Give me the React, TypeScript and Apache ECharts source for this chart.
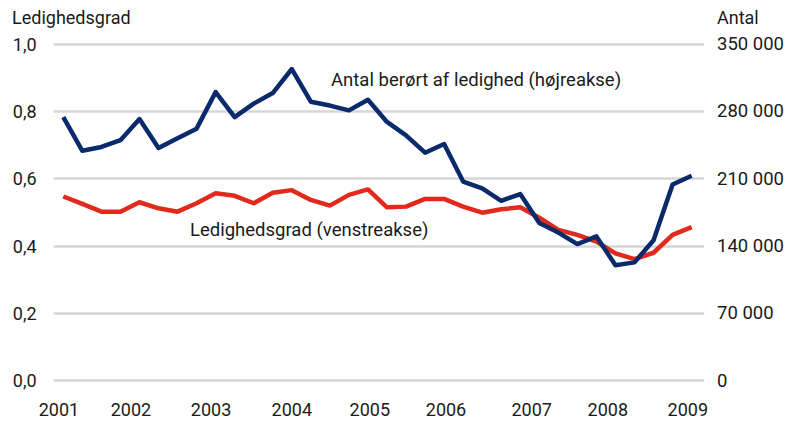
import React, { useEffect, useRef } from "react";
import * as echarts from "echarts";

// Quarterly data, 2001 K1 – 2009 K2
const quarters: string[] = [];
for (let y = 2001; y <= 2009; y++) {
  for (let q = 1; q <= 4; q++) {
    if (y === 2009 && q > 2) break;
    quarters.push(`${y}K${q}`);
  }
}

// Ledighedsgrad (left axis)
const ledighedsgrad = [
  0.547, 0.525, 0.502, 0.502, 0.530, 0.512, 0.502, 0.527,
  0.557, 0.549, 0.527, 0.558, 0.566, 0.537, 0.520, 0.552,
  0.568, 0.515, 0.517, 0.540, 0.540, 0.517, 0.499, 0.509,
  0.515, 0.484, 0.448, 0.433, 0.413, 0.378, 0.361, 0.380,
  0.433, 0.456,
];

// Antal berørt af ledighed (right axis)
const antalBeroert = [
  274000, 239000, 243000, 250000, 272000, 242000, 252000, 262000,
  300000, 274000, 288000, 299000, 324000, 290000, 286000, 281000,
  292000, 269000, 255000, 237000, 246000, 207000, 200000, 187000,
  194000, 164000, 154000, 142000, 150000, 120000, 123000, 146000,
  204000, 213000,
];

// Year tick labels and where they sit on the quarter index scale
const yearLabels = ["2001", "2002", "2003", "2004", "2005", "2006", "2007", "2008", "2009"];
const yearLabelPos = [-0.23, 3.55, 7.76, 12.0, 16.1, 20.1, 24.6, 28.6, 32.8];

const FONT = "Roboto, 'Liberation Sans', sans-serif";
const FS = 18;
const FS_NOTE = 18.5;
const TXT = "#1a1a1a";

export default function App() {
  const ref = useRef<HTMLDivElement>(null);

  useEffect(() => {
    if (!ref.current) return;
    const chart = echarts.init(ref.current, undefined, { renderer: "svg" });
    chart.setOption({
      animation: false,
      backgroundColor: "#ffffff",
      textStyle: { fontFamily: FONT },
      grid: {
        left: 53.6,
        right: 93,
        top: 44,
        bottom: 40.3,
        containLabel: false,
        outerBoundsMode: "none",
      },
      xAxis: {
        type: "value",
        min: -0.51,
        max: 33.65,
        axisLine: { show: false },
        axisTick: { show: false },
        splitLine: { show: false },
        axisLabel: {
          customValues: yearLabelPos,
          margin: 20,
          fontSize: FS,
          color: TXT,
          fontFamily: FONT,
          formatter: (v: number) => {
            const i = yearLabelPos.findIndex((p) => Math.abs(p - v) < 1e-6);
            return i >= 0 ? yearLabels[i] : "";
          },
        },
      },
      yAxis: [
        {
          type: "value",
          min: 0,
          max: 1,
          interval: 0.2,
          position: "left",
          axisLine: { show: false },
          axisTick: { show: false },
          splitLine: { show: true, lineStyle: { color: "#d6d6d6", width: 2.5 } },
          axisLabel: {
            margin: 17,
            fontSize: FS,
            color: TXT,
            fontFamily: FONT,
            formatter: (v: number) => v.toFixed(1).replace(".", ","),
          },
        },
        {
          type: "value",
          min: 0,
          max: 350000,
          interval: 70000,
          position: "right",
          axisLine: { show: false },
          axisTick: { show: false },
          splitLine: { show: false },
          axisLabel: {
            margin: 13,
            fontSize: 18.5,
            color: TXT,
            fontFamily: FONT,
            formatter: (v: number) => (v === 0 ? "0" : `${Math.round(v / 1000)} 000`),
          },
        },
      ],
      series: [
        {
          name: "Ledighedsgrad (venstreakse)",
          type: "line",
          yAxisIndex: 0,
          data: ledighedsgrad.map((v, i) => [i, v]),
          symbol: "none",
          lineStyle: { color: "#e12a1c", width: 4.5, join: "round" },
          z: 2,
        },
        {
          name: "Antal berørt af ledighed (højreakse)",
          type: "line",
          yAxisIndex: 1,
          data: antalBeroert.map((v, i) => [i, v]),
          symbol: "none",
          lineStyle: { color: "#0b2a6b", width: 4.5, join: "round" },
          z: 3,
        },
      ],
      graphic: [
        {
          type: "text",
          left: 12,
          top: 8,
          style: { text: "Ledighedsgrad", fontSize: FS, fontFamily: FONT, fill: TXT },
        },
        {
          type: "text",
          left: 717,
          top: 8,
          style: { text: "Antal", fontSize: FS, fontFamily: FONT, fill: TXT },
        },
        {
          type: "text",
          left: 331,
          top: 70,
          style: { text: "Antal berørt af ledighed (højreakse)", fontSize: FS_NOTE, fontFamily: FONT, fill: TXT },
        },
        {
          type: "text",
          left: 190,
          top: 220,
          style: { text: "Ledighedsgrad (venstreakse)", fontSize: FS_NOTE, fontFamily: FONT, fill: TXT },
        },
      ],
    });
    return () => chart.dispose();
  }, []);

  return (
    <div
      ref={ref}
      style={{ position: "fixed", left: 0, top: 0, width: 797, height: 421 }}
    />
  );
}
